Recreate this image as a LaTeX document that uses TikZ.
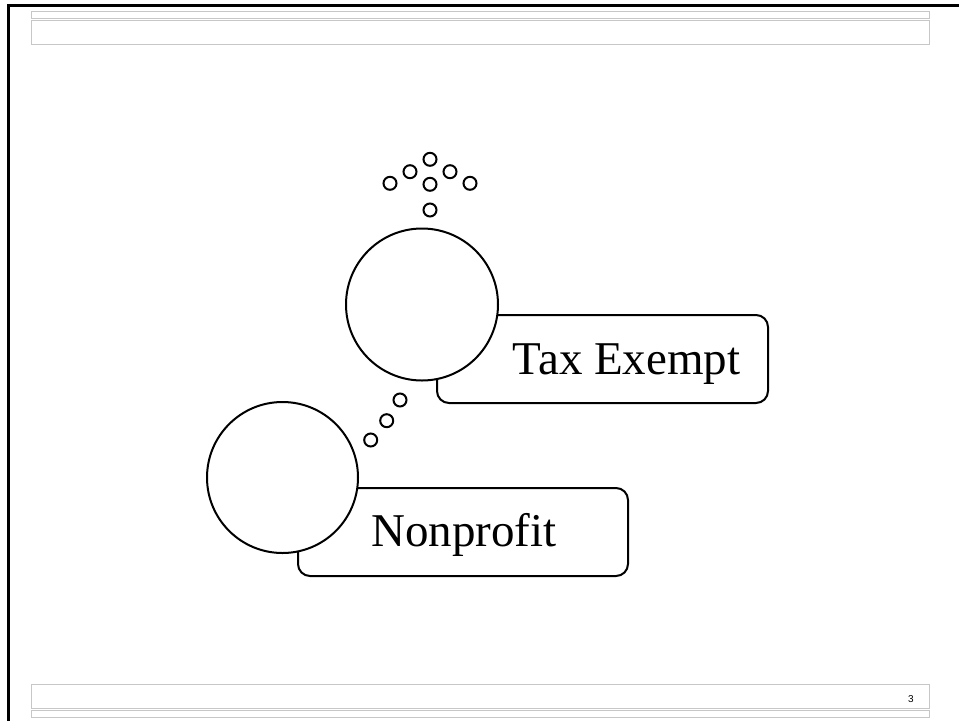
\documentclass[tikz,border=0pt]{standalone}
\usepackage{fontspec}
\setmainfont{Liberation Serif}
\newfontfamily\pagenumfont{Liberation Sans}
\begin{document}
\begin{tikzpicture}[x=1pt,y=-1pt,
  bar/.style={draw=black!22,line width=0.9pt},
  bubble/.style={circle,draw=black,line width=2pt,fill=white,inner sep=0pt,outer sep=0pt},
  dot/.style={circle,draw=black,line width=2pt,fill=white,inner sep=0pt,minimum size=13pt},
  label box/.style={draw=black,line width=2pt,rounded corners=12pt,fill=white,inner sep=0pt},
  caption/.style={inner sep=0pt,anchor=base west,font=\fontsize{47}{56}\selectfont}]
\useasboundingbox (0,0) rectangle (959,721);

% page frame
\draw[line width=2.7pt] (7,5.3) -- (959,5.3);
\draw[line width=2.7pt] (8.7,4) -- (8.7,721);

% header and footer bars
\draw[bar] (31,11) rectangle (929.3,18.3);
\draw[bar] (31,20) rectangle (929.3,44.3);
\draw[bar] (31,684.3) rectangle (929.3,708.3);
\draw[bar] (31,710) rectangle (929.3,717.3);
\node[inner sep=0pt,font=\pagenumfont\fontsize{10}{12}\selectfont] (pagenum) at (911,699.5) {3};

% label boxes behind the bubbles
\node[label box,minimum width=331pt,minimum height=88pt] (taxbox) at (602.5,359) {};
\node[label box,minimum width=330pt,minimum height=88pt] (npbox) at (463,532) {};

% large bubbles
\node[bubble,minimum size=152pt] (taxbubble) at (422,304.5) {};
\node[bubble,minimum size=151pt] (npbubble) at (282.5,477.5) {};

% captions
\node[caption] (taxtext) at (512.5,374) {Tax Exempt};
\node[caption] (nptext) at (371,546) {Nonprofit};

% small thought dots above the upper bubble
\node[dot] (t1) at (430,159.3) {};
\node[dot] (t2) at (410,171.7) {};
\node[dot] (t3) at (450,171.7) {};
\node[dot] (t4) at (390,183.3) {};
\node[dot] (t5) at (430,184.3) {};
\node[dot] (t6) at (470,183.3) {};
\node[dot] (t7) at (430,210) {};

% thought dots linking the two bubbles
\node[dot] (l1) at (400,400) {};
\node[dot] (l2) at (386.7,420.7) {};
\node[dot] (l3) at (370.7,440) {};
\end{tikzpicture}
\end{document}
